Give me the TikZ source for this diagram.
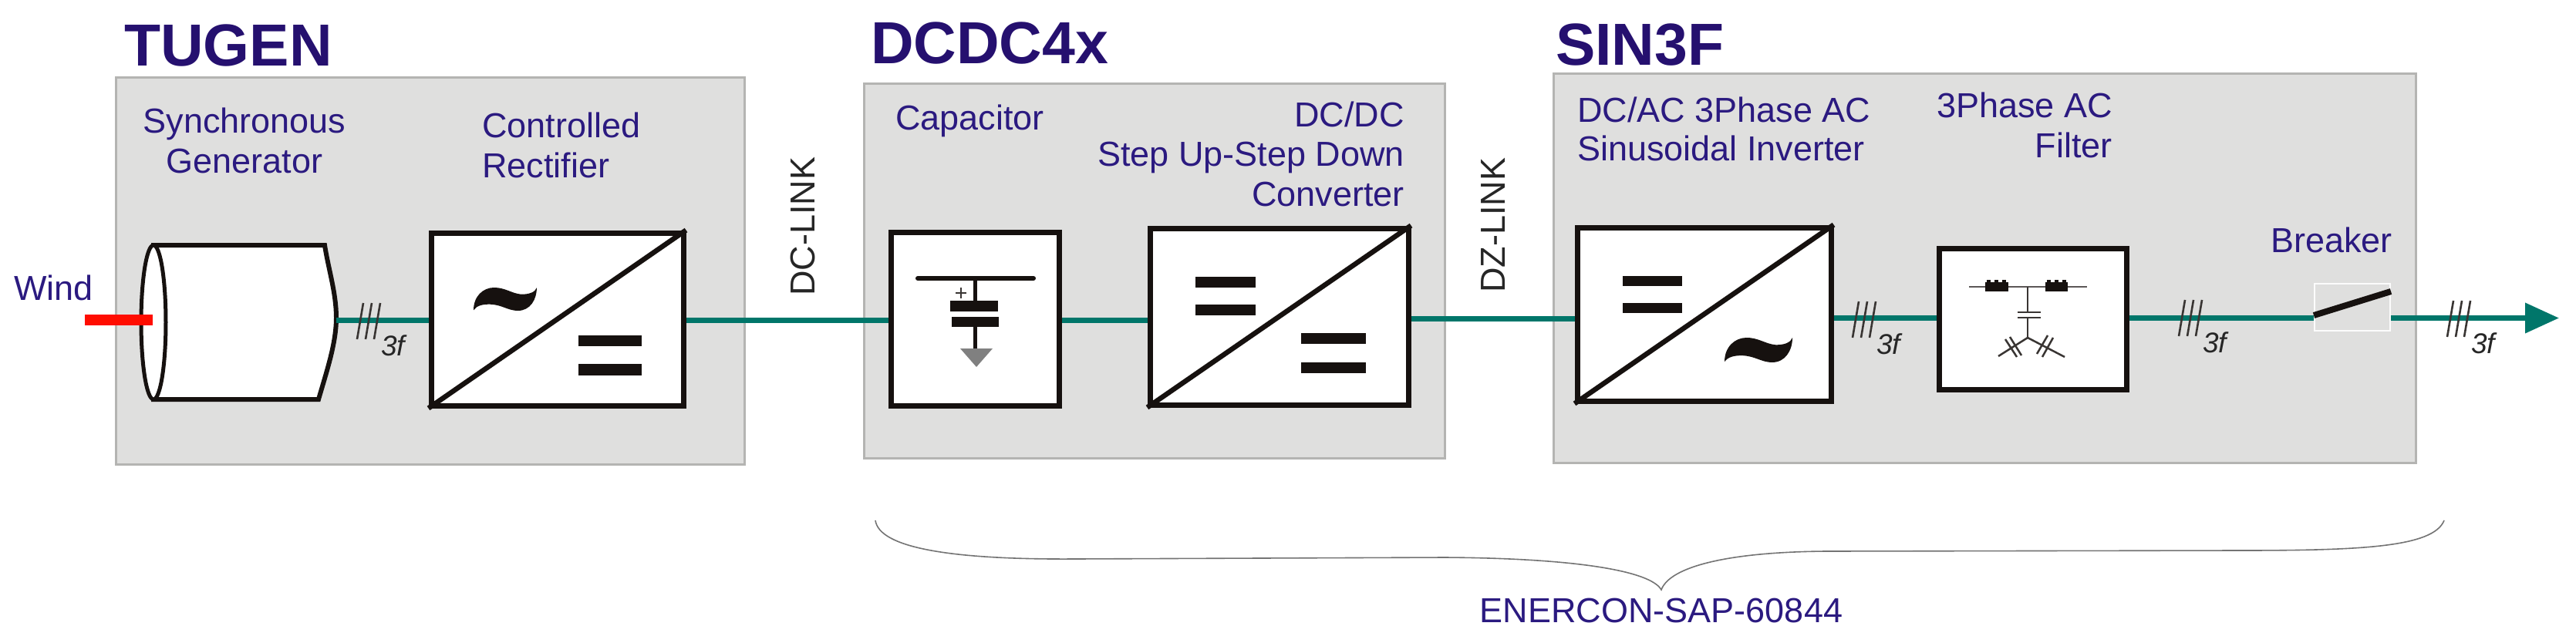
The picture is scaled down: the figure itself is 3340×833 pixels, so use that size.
\documentclass[tikz,border=0pt]{standalone}
\usepackage{fontspec}
\setmainfont{Liberation Sans}
\usetikzlibrary{arrows.meta}
\definecolor{inktext}{HTML}{2B1A80}
\definecolor{titleink}{HTML}{25106F}
\definecolor{panelgrey}{HTML}{DFDFDE}
\definecolor{panelline}{HTML}{B4B4B2}
\definecolor{wireteal}{HTML}{00766A}
\definecolor{boxblack}{HTML}{16110F}
\tikzset{
  panel/.style={draw=panelline,line width=2.5pt,fill=panelgrey,inner sep=0pt,anchor=north west},
  convbox/.style={draw=boxblack,line width=7pt,fill=white,inner sep=0pt,line join=miter},
  wire/.style={draw=wireteal,line width=7pt},
  title/.style={text=titleink,inner sep=0pt,anchor=base west,font=\bfseries\fontsize{77}{77}\selectfont},
  lbl/.style={text=inktext,inner sep=0pt,font=\fontsize{45}{52}\selectfont},
  linklbl/.style={text=black!85,inner sep=0pt,rotate=90,anchor=base west,font=\fontsize{45}{52}\selectfont},
  bar/.style={fill=boxblack},
  diag/.style={draw=boxblack,line width=6.5pt},
  fine/.style={draw=boxblack!85,line width=2.5pt},
  ticks/.pic={
    \foreach \d in {0,11,22}{\draw[boxblack!85,line width=2.6pt] (\d,0) -- (\d-8,47);}
    \node[text=black!85,inner sep=0pt,anchor=base west,font=\itshape\fontsize{37}{37}\selectfont] (-lbl) at (23,68) {3f};
  },
  wave/.pic={
    \fill[boxblack] (-1,-.95) .. controls (-1,.25) and (-.7,1) .. (-.35,1)
      .. controls (0,1) and (.2,.5) .. (.5,.42)
      .. controls (.75,.4) and (.95,.6) .. (1,1)
      .. controls (1,0) and (.8,-1) .. (.4,-1)
      .. controls (.1,-1) and (-.1,-.5) .. (-.45,-.45)
      .. controls (-.7,-.42) and (-.9,-.55) .. (-1,-.95) -- cycle;
  }
}
\begin{document}
\begin{tikzpicture}[x=1pt,y=-1pt]
\useasboundingbox (0,0) rectangle (3340,833);

% panels
\node[panel,minimum width=815pt,minimum height=502pt] (tugen) at (149,99) {};
\node[panel,minimum width=753pt,minimum height=486pt] (dcdc) at (1119,107) {};
\node[panel,minimum width=1118pt,minimum height=505pt] (sin) at (2013,94) {};

% titles
\node[title] (ttugen) at (161,85) {TUGEN};
\node[title] (tdcdc) at (1129,82) {DCDC4x};
\node[title] (tsin) at (2017,84) {SIN3F};

% labels
\node[lbl,anchor=base] (lsyn) at (317,172) {Synchronous};
\node[lbl,anchor=base] (lgen) at (317,224) {Generator};
\node[lbl,anchor=base west] (lcon) at (625,178) {Controlled};
\node[lbl,anchor=base west] (lrec) at (625,230) {Rectifier};
\node[lbl,anchor=base west] (lwind) at (18,389) {Wind};
\node[linklbl] (ldc) at (1056,384) {DC-LINK};
\node[lbl,anchor=base west] (lcap) at (1161,168) {Capacitor};
\node[lbl,anchor=base east] (ld1) at (1821,164) {DC/DC};
\node[lbl,anchor=base east] (ld2) at (1821,215) {Step Up-Step Down};
\node[lbl,anchor=base east] (ld3) at (1821,267) {Converter};
\node[linklbl] (ldz) at (1951,380) {DZ-LINK};
\node[lbl,anchor=base west] (li1) at (2045,158) {DC/AC 3Phase AC};
\node[lbl,anchor=base west] (li2) at (2045,208) {Sinusoidal Inverter};
\node[lbl,anchor=base east] (lf1) at (2739,152) {3Phase AC};
\node[lbl,anchor=base east] (lf2) at (2739,204) {Filter};
\node[lbl,anchor=base west] (lbr) at (2944,327) {Breaker};
\node[lbl,anchor=base] (lsap) at (2154,807) {ENERCON-SAP-60844};

% boxes
\node[convbox,minimum width=327pt,minimum height=224pt] (rect) at (722.5,414) {};
\node[convbox,minimum width=218pt,minimum height=225pt] (capbox) at (1264,413.5) {};
\node[convbox,minimum width=335pt,minimum height=229pt] (conv) at (1658.5,410.5) {};
\node[convbox,minimum width=329pt,minimum height=225pt] (inv) at (2209.5,407.5) {};
\node[convbox,minimum width=243pt,minimum height=183pt] (filt) at (2635.5,413.5) {};
\node[draw=white!90!panelgrey,line width=2pt,inner sep=0pt,minimum width=98pt,minimum height=61pt] (brk) at (3050,398.5) {};

% generator
\draw[boxblack,line width=6pt,fill=white,line join=miter]
  (199,318) -- (421,318) .. controls (426,350) and (436,380) .. (436,412)
  .. controls (436,445) and (424,480) .. (413,518) -- (199,518) -- cycle;
\draw[boxblack,line width=5pt,fill=white] (199,418) ellipse [x radius=16,y radius=100];
\coordinate (genout) at (436,415);
\coordinate (windin) at (110,415);
\coordinate (genin) at (198,415);
\draw[draw=red!90!orange,line width=14pt] (windin) -- (genin);

% connectors
\draw[wire] (genout) -- (rect.west |- genout);
\draw[wire] (rect.east |- genout) -- (capbox.west |- genout);
\draw[wire] (capbox.east |- genout) -- (conv.west |- genout);
\coordinate (w2) at (2000,413.5);
\draw[wire] (conv.east |- w2) -- (inv.west |- w2);
\coordinate (w3) at (2400,412.5);
\draw[wire] (inv.east |- w3) -- (filt.west |- w3);
\draw[wire] (filt.east |- w3) -- (brk.west |- w3);
\coordinate (outend) at (3318,412.5);
\draw[wire,-{Triangle[length=44pt,width=38pt]}] (brk.east |- w3) -- (outend);

% converter diagonals
\draw[diag] (rect.south west) -- (rect.north east);
\draw[diag] (conv.south west) -- (conv.north east);
\draw[diag] (inv.south west) -- (inv.north east);

% rectifier symbols
\pic[xscale=41,yscale=-15] (w1) at (655,388) {wave};
\fill[bar] (750,435) rectangle (832,449);
\fill[bar] (750,472) rectangle (832,487);

% capacitor symbol
\draw[boxblack,line width=6pt,line cap=round] (1190,361) -- (1340,361);
\draw[boxblack,line width=5pt] (1264,361) -- (1264,392);
\fill[bar] (1232,390) rectangle (1294,404);
\fill[bar] (1234,411) rectangle (1295,424);
\draw[boxblack,line width=5pt] (1264,424) -- (1264,453);
\fill[black!50] (1245,452) -- (1287,452) -- (1266,476) -- cycle;
\draw[boxblack!85,line width=1.6pt] (1239,380) -- (1253,380) (1246,373) -- (1246,387);

% DC/DC symbols
\fill[bar] (1550,358.5) rectangle (1628,373);
\fill[bar] (1550,395) rectangle (1628,409);
\fill[bar] (1687,432) rectangle (1771,446);
\fill[bar] (1687,470) rectangle (1771,484);

% inverter symbols
\fill[bar] (2104,358) rectangle (2181,371);
\fill[bar] (2104,393) rectangle (2181,406);
\pic[xscale=44,yscale=-16] (w2p) at (2280,454) {wave};

% filter symbol
\draw[fine,draw=boxblack!70] (2553,372) -- (2706,372);
\fill[bar] (2574,366) rectangle (2604,378);
\fill[bar] (2652,366) rectangle (2681,378);
\foreach \x in {2576,2586,2596,2654,2664,2674}{\fill[bar] (\x,363) rectangle (\x+5,366);}
\draw[fine] (2629,372) -- (2629,405) (2629,412) -- (2629,438);
\draw[fine] (2616,405) -- (2646,405) (2616,412) -- (2646,412);
\draw[fine] (2591,462) -- (2629,438) -- (2677,463);
\draw[fine] (2600,440) -- (2615,463) (2606,437) -- (2621,461);
\draw[fine] (2655,435) -- (2641,459) (2662,438) -- (2648,463);

% breaker blade
\draw[boxblack,line width=8pt] (brk.west |- 0,409) -- (brk.east |- 0,378);

% three-phase ticks
\pic (t1) at (471,393) {ticks};
\pic (t2) at (2410,391) {ticks};
\pic (t3) at (2833,389) {ticks};
\pic (t4) at (3181,390) {ticks};

% brace
\coordinate (bl) at (1135,675);
\coordinate (bt) at (2154,765);
\coordinate (br) at (3169,675);
\draw[black!55,line width=1.6pt] (bl) .. controls (1140,710) and (1230,726) .. (1393,725)
  -- (1873,723) .. controls (2040,724) and (2140,740) .. (bt)
  .. controls (2165,735) and (2240,716) .. (2367,715)
  -- (2902,714) .. controls (3060,714) and (3155,710) .. (br);
\end{tikzpicture}
\end{document}
